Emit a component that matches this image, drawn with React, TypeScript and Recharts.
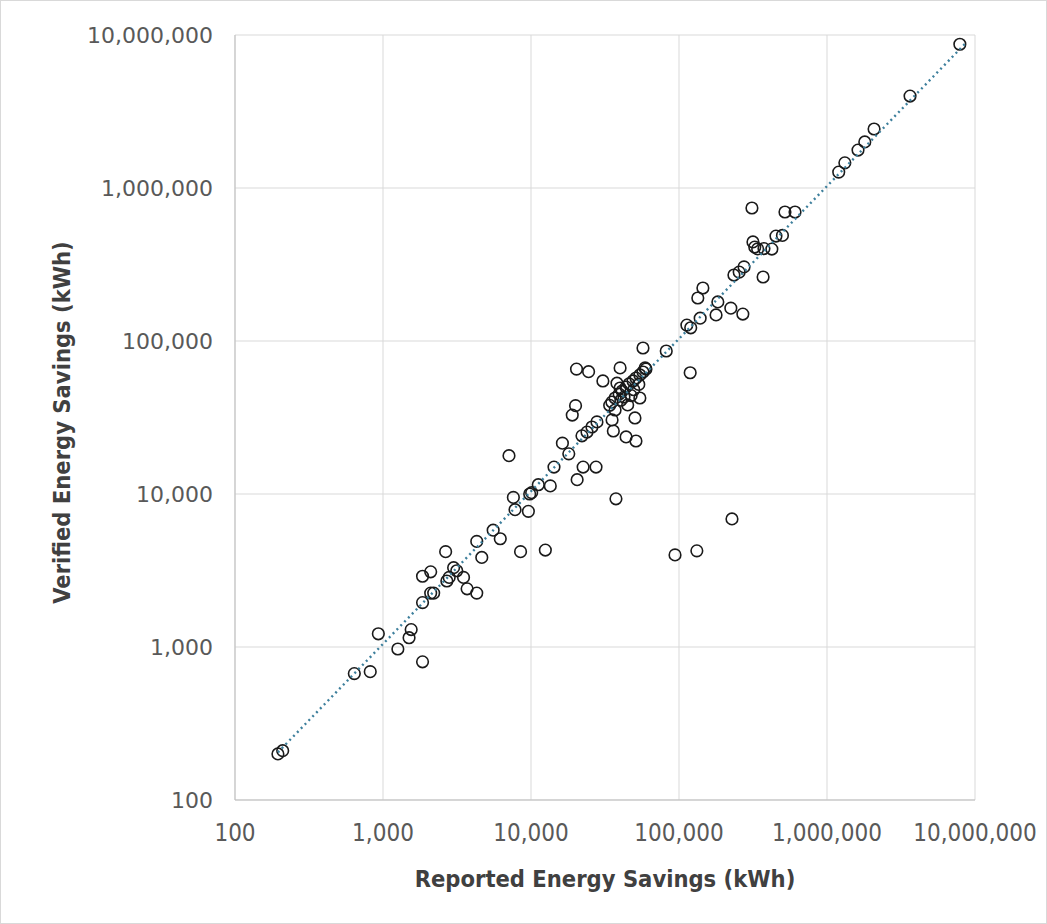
import React from 'react';
import { ScatterChart, Scatter, XAxis, YAxis, CartesianGrid, Label } from 'recharts';

// Reported vs verified savings per project (kWh)
const reportedKwh = [
  195, 210, 640, 820, 930, 1260, 1850, 1500, 1550, 1850,
  2200, 2100, 1850, 2100, 2700, 2800, 3000, 3150, 3500, 3700,
  4300, 2650, 4300, 4650, 5550, 6200, 8500, 7100, 7600, 7800,
  9600, 9800, 10100, 11200, 13500, 12500, 14300, 16300, 18000, 20500,
  22500, 27500, 19000, 20000, 20300, 24500, 22100, 23900, 25800, 27900,
  30600, 34000, 36000, 35300, 38100, 40000, 40000, 37500, 43900, 51200,
  50400, 54400, 57100, 59000, 82000, 119000, 94000, 132000, 228000,
  35200, 37000, 39400, 41300, 43900, 46000, 48900, 51200, 54400, 57100,
  59800, 37000, 45000, 40500, 47500, 42500, 49500, 53500,
  113000, 120000, 139000, 134000, 145000, 178000, 183000, 224000, 270000, 235000,
  255000, 275000, 311000, 316000, 325000, 340000, 375000, 424000, 370000, 452000,
  500000, 520000, 608000, 1200000, 1320000, 1620000, 1800000, 2080000, 3640000, 7900000,
];

const verifiedKwh = [
  200, 210, 670, 690, 1220, 970, 800, 1150, 1300, 1950,
  2250, 2250, 2900, 3100, 2700, 2850, 3300, 3150, 2850, 2400,
  2250, 4200, 4900, 3850, 5800, 5100, 4200, 17800, 9500, 7900,
  7700, 10000, 10200, 11500, 11300, 4300, 15000, 21500, 18300, 12400,
  15000, 15000, 32800, 37800, 65500, 63000, 24000, 25400, 27400, 29600,
  54800, 38000, 25800, 30500, 53000, 49300, 66700, 9300, 23600, 22200,
  31400, 42400, 90000, 66700, 86000, 62000, 4000, 4250, 6870,
  39900, 42400, 45000, 47100, 50000, 52400, 54800, 57300, 60000, 62700,
  65600, 35400, 38200, 41000, 44000, 43000, 48000, 52000,
  127000, 122000, 141000, 191000, 222000, 148000, 180000, 164000, 150000, 270000,
  282000, 305000, 740000, 444000, 411000, 400000, 402000, 399000, 262000, 485000,
  490000, 697000, 697000, 1270000, 1460000, 1770000, 2000000, 2430000, 3990000, 8700000,
];

// power trendline end points
const trendX = [195, 8800000];
const trendY = [205, 9000000];

const axisTicks = [100, 1000, 10000, 100000, 1000000, 10000000];

const points = reportedKwh.map((x, i) => ({ x, y: verifiedKwh[i] }));
const trend = trendX.map((x, i) => ({ x, y: trendY[i] }));

const fmt = (v: number) => Number(v).toLocaleString('en-US');

const titleFont = "'DejaVu Sans Condensed', 'DejaVu Sans', sans-serif";

const OpenCircle = (props: any) => {
  const { cx, cy } = props;
  if (cx == null || cy == null) return <g />;
  return <circle cx={cx} cy={cy} r={5.8} fill="none" stroke="#1a1a1a" strokeWidth={1.6} />;
};

const NoDot = () => <g />;

const YTitle = (props: any) => {
  const vb = props.viewBox || {};
  const cy = (vb.y || 0) + (vb.height || 0) / 2 + 5;
  return (
    <text
      x={62}
      y={cy}
      transform={`rotate(-90, 62, ${cy})`}
      textAnchor="middle"
      dominantBaseline="central"
      fill="#404040"
      fontFamily={titleFont}
      fontWeight="bold"
      fontSize={23.5}
    >
      Verified Energy Savings (kWh)
    </text>
  );
};

const App: React.FC = () => {
  return (
    <div
      style={{
        position: 'absolute',
        left: 0,
        top: 0,
        width: 1047,
        height: 924,
        boxSizing: 'border-box',
        border: '1px solid #d9d9d9',
        background: '#fff',
      }}
    >
      <div style={{ position: 'absolute', left: -1, top: -1 }}>
        <ScatterChart width={1047} height={924} margin={{ top: 35, right: 72, bottom: 0, left: 0 }}>
          <CartesianGrid stroke="#d9d9d9" strokeWidth={1} />
          <XAxis
            type="number"
            dataKey="x"
            scale="log"
            domain={[100, 10000000]}
            ticks={axisTicks}
            allowDataOverflow
            tickFormatter={fmt}
            height={124}
            axisLine={{ stroke: '#bfbfbf' }}
            tickLine={false}
            tickMargin={18}
            tick={{ fill: '#595959', fontSize: 24, fontFamily: titleFont }}
          >
            <Label
              value="Reported Energy Savings (kWh)"
              position="insideBottom"
              offset={37}
              fill="#404040"
              fontWeight="bold"
              fontSize={23.5}
              fontFamily={titleFont}
            />
          </XAxis>
          <YAxis
            type="number"
            dataKey="y"
            scale="log"
            domain={[100, 10000000]}
            ticks={axisTicks}
            allowDataOverflow
            tickFormatter={fmt}
            width={235}
            axisLine={{ stroke: '#bfbfbf' }}
            tickLine={false}
            tickMargin={16}
            tick={{ fill: '#595959', fontSize: 22, fontFamily: "'DejaVu Sans', sans-serif" }}
            label={<YTitle />}
          />
          <Scatter data={points} shape={<OpenCircle />} isAnimationActive={false} />
          <Scatter
            data={trend}
            shape={<NoDot />}
            line={{ stroke: '#3d7f9c', strokeWidth: 2.4, strokeDasharray: '2 3.5' }}
            isAnimationActive={false}
          />
        </ScatterChart>
      </div>
    </div>
  );
};

export default App;
